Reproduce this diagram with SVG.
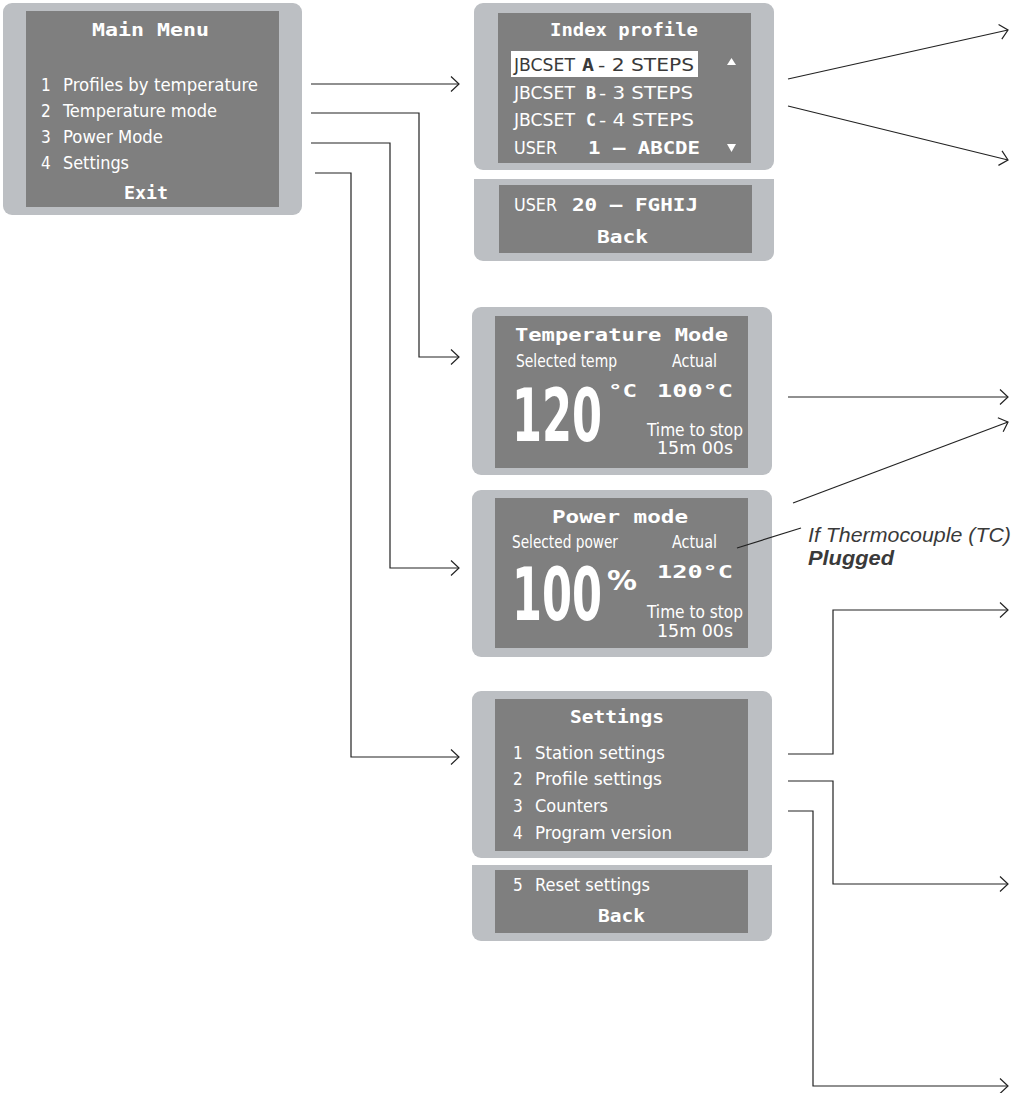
<svg xmlns="http://www.w3.org/2000/svg" width="1011" height="1093" viewBox="0 0 1011 1093">
<style>
.bezel{fill:#bcbfc3}
.screen{fill:#7f7f7f}
.t{font-family:"DejaVu Sans Condensed","DejaVu Sans","Liberation Sans",sans-serif;font-stretch:condensed;font-size:17px;fill:#ffffff}
.b{font-family:"DejaVu Sans Mono","Liberation Mono",monospace;font-weight:bold;font-size:17px;fill:#ffffff}
.big{font-family:"DejaVu Sans","Liberation Sans",sans-serif;font-weight:bold;font-size:73px;fill:#ffffff}
.pc{font-family:"DejaVu Sans","Liberation Sans",sans-serif;font-weight:bold;font-size:27px;fill:#ffffff}
.dark{fill:#3a3a3a}
.ann{font-family:"Liberation Sans",Arial,sans-serif;font-style:italic;font-size:20px;fill:#3a3a3a}
.conn{fill:none;stroke:#222222;stroke-width:1.2}
</style>
<defs>
<marker id="arr" viewBox="-10 -9 12 18" refX="0" refY="0" markerWidth="12" markerHeight="18" markerUnits="userSpaceOnUse" orient="auto">
<path d="M-8,-7.5 L0,0 L-8,7.5" fill="none" stroke="#222222" stroke-width="1.2"/>
</marker>
</defs>
<rect width="1011" height="1093" fill="#ffffff"/>

<g id="main-menu">
<rect class="bezel" x="3" y="3" width="299" height="212" rx="9"/>
<rect class="screen" x="26" y="11" width="253" height="196"/>
<text class="b" x="92" y="36" textLength="117" lengthAdjust="spacingAndGlyphs">Main Menu</text>
<text class="t" x="41" y="91">1</text>
<text class="t" x="63" y="91" textLength="195" lengthAdjust="spacingAndGlyphs">Profiles by temperature</text>
<text class="t" x="41" y="117">2</text>
<text class="t" x="63" y="117" textLength="154" lengthAdjust="spacingAndGlyphs">Temperature mode</text>
<text class="t" x="41" y="143">3</text>
<text class="t" x="63" y="143" textLength="100" lengthAdjust="spacingAndGlyphs">Power Mode</text>
<text class="t" x="41" y="169">4</text>
<text class="t" x="63" y="169" textLength="66" lengthAdjust="spacingAndGlyphs">Settings</text>
<text class="b" x="124" y="199" textLength="44" lengthAdjust="spacingAndGlyphs">Exit</text>
</g>

<g id="index-profile">
<rect class="bezel" x="474" y="3" width="300" height="167" rx="9"/>
<rect class="screen" x="498" y="13" width="253" height="150"/>
<text class="b" x="550" y="36" textLength="148" lengthAdjust="spacingAndGlyphs">Index profile</text>
<rect x="511" y="51" width="187" height="26" fill="#ffffff"/>
<text class="t dark" x="514" y="71" textLength="61" lengthAdjust="spacingAndGlyphs">JBCSET</text>
<text class="b dark" x="582" y="71" textLength="12" lengthAdjust="spacingAndGlyphs">A</text>
<text class="t dark" x="598" y="71" textLength="96" lengthAdjust="spacingAndGlyphs">- 2 STEPS</text>
<text class="t" x="514" y="99" textLength="61" lengthAdjust="spacingAndGlyphs">JBCSET</text>
<text class="b" x="586" y="99" textLength="10" lengthAdjust="spacingAndGlyphs">B</text>
<text class="t" x="599" y="99" textLength="94" lengthAdjust="spacingAndGlyphs">- 3 STEPS</text>
<text class="t" x="514" y="126" textLength="61" lengthAdjust="spacingAndGlyphs">JBCSET</text>
<text class="b" x="586" y="126" textLength="10" lengthAdjust="spacingAndGlyphs">C</text>
<text class="t" x="599" y="126" textLength="95" lengthAdjust="spacingAndGlyphs">- 4 STEPS</text>
<text class="t" x="514" y="154" textLength="43" lengthAdjust="spacingAndGlyphs">USER</text>
<text class="b" x="588" y="154" textLength="112" lengthAdjust="spacingAndGlyphs">1 – ABCDE</text>
<polygon points="727,65 736,65 731.5,58" fill="#ffffff"/>
<polygon points="727,144 736,144 731.5,152" fill="#ffffff"/>
</g>

<g id="index-profile-more">
<path class="bezel" d="M474,179 H774 V252 A9,9 0 0 1 765,261 H483 A9,9 0 0 1 474,252 Z"/>
<rect class="screen" x="499" y="185" width="253" height="68"/>
<text class="t" x="514" y="211" textLength="43" lengthAdjust="spacingAndGlyphs">USER</text>
<text class="b" x="572" y="211" textLength="126" lengthAdjust="spacingAndGlyphs">20 – FGHIJ</text>
<text class="b" x="597" y="243" textLength="51" lengthAdjust="spacingAndGlyphs">Back</text>
</g>

<g id="temperature-mode">
<rect class="bezel" x="472" y="307" width="300" height="168" rx="9"/>
<rect class="screen" x="495" y="316" width="253" height="152"/>
<text class="b" x="515" y="341" textLength="213" lengthAdjust="spacingAndGlyphs">Temperature Mode</text>
<text class="t" x="516" y="367" textLength="101" lengthAdjust="spacingAndGlyphs">Selected temp</text>
<text class="t" x="672" y="367" textLength="45" lengthAdjust="spacingAndGlyphs">Actual</text>
<text class="b" x="657" y="397" font-size="23" textLength="76" lengthAdjust="spacingAndGlyphs">100°C</text>
<text class="big" transform="translate(512,441) scale(0.6,1)" x="0" y="0" textLength="150" lengthAdjust="spacingAndGlyphs">120</text>
<text class="b" x="608" y="397" textLength="29" lengthAdjust="spacingAndGlyphs">°C</text>
<text class="t" x="647" y="436" textLength="96" lengthAdjust="spacingAndGlyphs">Time to stop</text>
<text class="t" x="657" y="454" textLength="76" lengthAdjust="spacingAndGlyphs">15m  00s</text>
</g>

<g id="power-mode">
<rect class="bezel" x="472" y="490" width="300" height="167" rx="9"/>
<rect class="screen" x="495" y="498" width="253" height="150"/>
<text class="b" x="552" y="523" textLength="136" lengthAdjust="spacingAndGlyphs">Power mode</text>
<text class="t" x="512" y="548" textLength="106" lengthAdjust="spacingAndGlyphs">Selected power</text>
<text class="t" x="672" y="548" textLength="45" lengthAdjust="spacingAndGlyphs">Actual</text>
<text class="b" x="657" y="578" font-size="23" textLength="76" lengthAdjust="spacingAndGlyphs">120°C</text>
<text class="big" transform="translate(512,620) scale(0.6,1)" x="0" y="0" textLength="150" lengthAdjust="spacingAndGlyphs">100</text>
<text class="pc" x="607" y="590" textLength="30" lengthAdjust="spacingAndGlyphs">%</text>
<text class="t" x="647" y="618" textLength="96" lengthAdjust="spacingAndGlyphs">Time to stop</text>
<text class="t" x="657" y="637" textLength="76" lengthAdjust="spacingAndGlyphs">15m  00s</text>
</g>

<g id="settings">
<rect class="bezel" x="472" y="691" width="300" height="167" rx="9"/>
<rect class="screen" x="495" y="699" width="253" height="152"/>
<text class="b" x="570" y="723" textLength="94" lengthAdjust="spacingAndGlyphs">Settings</text>
<text class="t" x="513" y="759">1</text>
<text class="t" x="535" y="759" textLength="130" lengthAdjust="spacingAndGlyphs">Station settings</text>
<text class="t" x="513" y="785">2</text>
<text class="t" x="535" y="785" textLength="127" lengthAdjust="spacingAndGlyphs">Profile settings</text>
<text class="t" x="513" y="812">3</text>
<text class="t" x="535" y="812" textLength="73" lengthAdjust="spacingAndGlyphs">Counters</text>
<text class="t" x="513" y="839">4</text>
<text class="t" x="535" y="839" textLength="137" lengthAdjust="spacingAndGlyphs">Program version</text>
</g>

<g id="settings-more">
<path class="bezel" d="M472,865 H772 V932 A9,9 0 0 1 763,941 H481 A9,9 0 0 1 472,932 Z"/>
<rect class="screen" x="495" y="870" width="253" height="63"/>
<text class="t" x="513" y="891">5</text>
<text class="t" x="535" y="891" textLength="115" lengthAdjust="spacingAndGlyphs">Reset settings</text>
<text class="b" x="598" y="922" textLength="47" lengthAdjust="spacingAndGlyphs">Back</text>
</g>

<g id="annotation">
<text class="ann" x="808" y="542" textLength="203" lengthAdjust="spacingAndGlyphs">If Thermocouple (TC)</text>
<text class="ann" x="808" y="565" font-weight="bold" textLength="86" lengthAdjust="spacingAndGlyphs">Plugged</text>
</g>

<g id="connectors">
<path class="conn" marker-end="url(#arr)" d="M311,84 H459"/>
<path class="conn" marker-end="url(#arr)" d="M311,113 H419 V357 H459"/>
<path class="conn" marker-end="url(#arr)" d="M311,143 H390 V568 H459"/>
<path class="conn" marker-end="url(#arr)" d="M315,173 H351 V757 H459"/>
<path class="conn" marker-end="url(#arr)" d="M788,79 L1008,30"/>
<path class="conn" marker-end="url(#arr)" d="M788,106 L1008,160"/>
<path class="conn" marker-end="url(#arr)" d="M788,397 H1008"/>
<path class="conn" marker-end="url(#arr)" d="M793,503 L1008,422"/>
<path class="conn" d="M737,548 L801,528"/>
<path class="conn" marker-end="url(#arr)" d="M788,754 H833 V610 H1008"/>
<path class="conn" marker-end="url(#arr)" d="M788,781 H833 V884 H1008"/>
<path class="conn" marker-end="url(#arr)" d="M788,811 H813 V1086 H1008"/>
</g>
</svg>
